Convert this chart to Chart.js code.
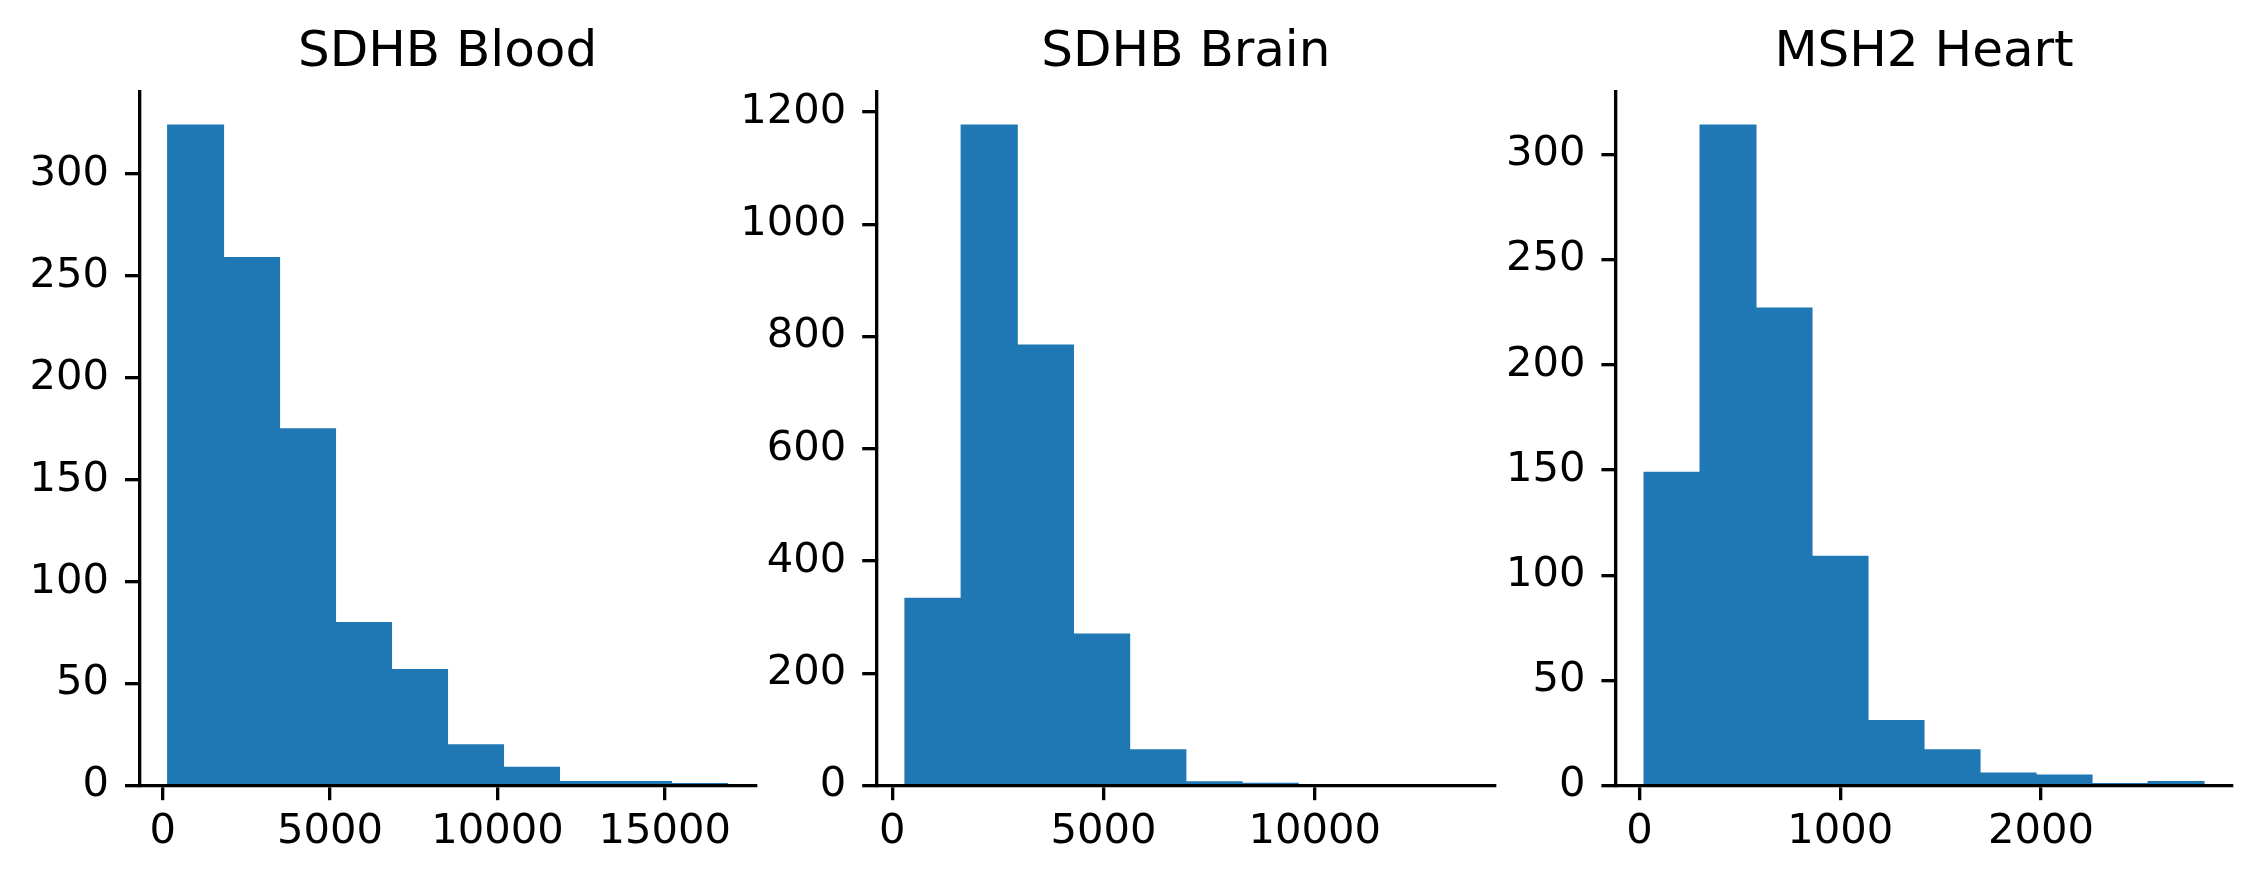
<!DOCTYPE html>
<html>
<head>
<meta charset="utf-8">
<script src="https://cdn.jsdelivr.net/npm/chart.js@4.4.1/dist/chart.umd.min.js"></script>
<style>
  html, body { margin: 0; padding: 0; background: #ffffff; }
  canvas { position: absolute; left: 0; top: 0; }
</style>
</head>
<body>
<canvas id="c1" width="2261" height="885"></canvas>
<canvas id="c2" width="2261" height="885"></canvas>
<canvas id="c3" width="2261" height="885"></canvas>
<script>
// ---- data ----
const titles = ['SDHB Blood', 'SDHB Brain', 'MSH2 Heart'];

const bloodEdges  = [145, 1818, 3491, 5164, 6837, 8510, 10183, 11856, 13529, 15202, 16875];
const bloodCounts = [324, 259, 175, 80, 57, 20, 9, 2, 2, 1];
const bloodXTicks = [0, 5000, 10000, 15000];
const bloodYTicks = [0, 50, 100, 150, 200, 250, 300];

const brainEdges  = [300, 1630, 2960, 4290, 5620, 6950, 8280, 9610, 10940, 12270, 13600];
const brainCounts = [334, 1177, 785, 270, 64, 7, 4, 0, 0, 0];
const brainXTicks = [0, 5000, 10000];
const brainYTicks = [0, 200, 400, 600, 800, 1000, 1200];

const heartEdges  = [22, 301, 580, 859, 1138, 1417, 1696, 1975, 2254, 2533, 2812];
const heartCounts = [149, 314, 227, 109, 31, 17, 6, 5, 1, 2];
const heartXTicks = [0, 1000, 2000];
const heartYTicks = [0, 50, 100, 150, 200, 250, 300];

// ---- layout (page pixels) ----
const PAGE_W = 2261, PAGE_H = 885;
const PLOT_TOP = 92, PLOT_BOTTOM = 785.6;
const plotBoxes = [
  { left: 139.6, right: 755.5 },
  { left: 876.8, right: 1495.0 },
  { left: 1616.0, right: 2232.1 }
];
const Y_AXIS_W = 150, X_AXIS_H = 90;
const FONT = 'DejaVu Sans';
const TICK_FONT = 41.67, TITLE_FONT = 50;
const LINE_W = 3.33, TICK_LEN = 14.6;
const BAR_COLOR = '#1f77b4';

function makeChart(id, title, edges, counts, xTicks, yTicks, box) {
  const points = counts.map((c, i) => ({ x: (edges[i] + edges[i + 1]) / 2, y: c }));
  const span = edges[edges.length - 1] - edges[0];
  const xMin = edges[0] - 0.05 * span;
  const xMax = edges[edges.length - 1] + 0.05 * span;
  const yMax = 1.05 * Math.max(...counts);

  const gridOpts = {
    display: true, drawOnChartArea: false, drawTicks: true,
    tickLength: TICK_LEN, lineWidth: LINE_W, tickWidth: LINE_W,
    color: '#000', tickColor: '#000', offset: false
  };
  const borderOpts = { display: true, color: '#000', width: LINE_W, z: 1 };
  const tickFont = { family: FONT, size: TICK_FONT, weight: 'normal', lineHeight: 1.2 };

  return new Chart(document.getElementById(id), {
    type: 'bar',
    data: {
      datasets: [{
        data: points,
        backgroundColor: BAR_COLOR,
        borderWidth: 0,
        inflateAmount: 0.5,
        barPercentage: 1.0,
        categoryPercentage: 1.0
      }]
    },
    options: {
      responsive: false,
      animation: false,
      events: [],
      layout: {
        padding: {
          left: box.left - Y_AXIS_W,
          right: PAGE_W - box.right,
          top: 0,
          bottom: PAGE_H - PLOT_BOTTOM - X_AXIS_H
        }
      },
      plugins: {
        legend: { display: false },
        tooltip: { enabled: false },
        title: {
          display: true,
          text: title,
          color: '#000',
          fullSize: false,
          font: { family: FONT, size: TITLE_FONT, weight: 'normal', lineHeight: 1.2 },
          padding: { top: 23.2, bottom: PLOT_TOP - TITLE_FONT * 1.2 - 23.2 }
        }
      },
      scales: {
        x: {
          type: 'linear',
          min: xMin, max: xMax,
          bounds: 'data',
          offset: false,
          grid: gridOpts,
          border: borderOpts,
          ticks: {
            font: tickFont, color: '#000', padding: 7,
            autoSkip: false, maxRotation: 0, minRotation: 0,
            callback: v => String(v)
          },
          afterBuildTicks: s => { s.ticks = xTicks.map(v => ({ value: v })); },
          afterFit: s => { s.height = X_AXIS_H; }
        },
        y: {
          type: 'linear',
          min: 0, max: yMax,
          bounds: 'data',
          grid: gridOpts,
          border: borderOpts,
          ticks: {
            font: tickFont, color: '#000', padding: 16,
            autoSkip: false,
            callback: v => String(v)
          },
          afterBuildTicks: s => { s.ticks = yTicks.map(v => ({ value: v })); },
          afterFit: s => { s.width = Y_AXIS_W; }
        }
      }
    }
  });
}

makeChart('c1', titles[0], bloodEdges, bloodCounts, bloodXTicks, bloodYTicks, plotBoxes[0]);
makeChart('c2', titles[1], brainEdges, brainCounts, brainXTicks, brainYTicks, plotBoxes[1]);
makeChart('c3', titles[2], heartEdges, heartCounts, heartXTicks, heartYTicks, plotBoxes[2]);
</script>
</body>
</html>
